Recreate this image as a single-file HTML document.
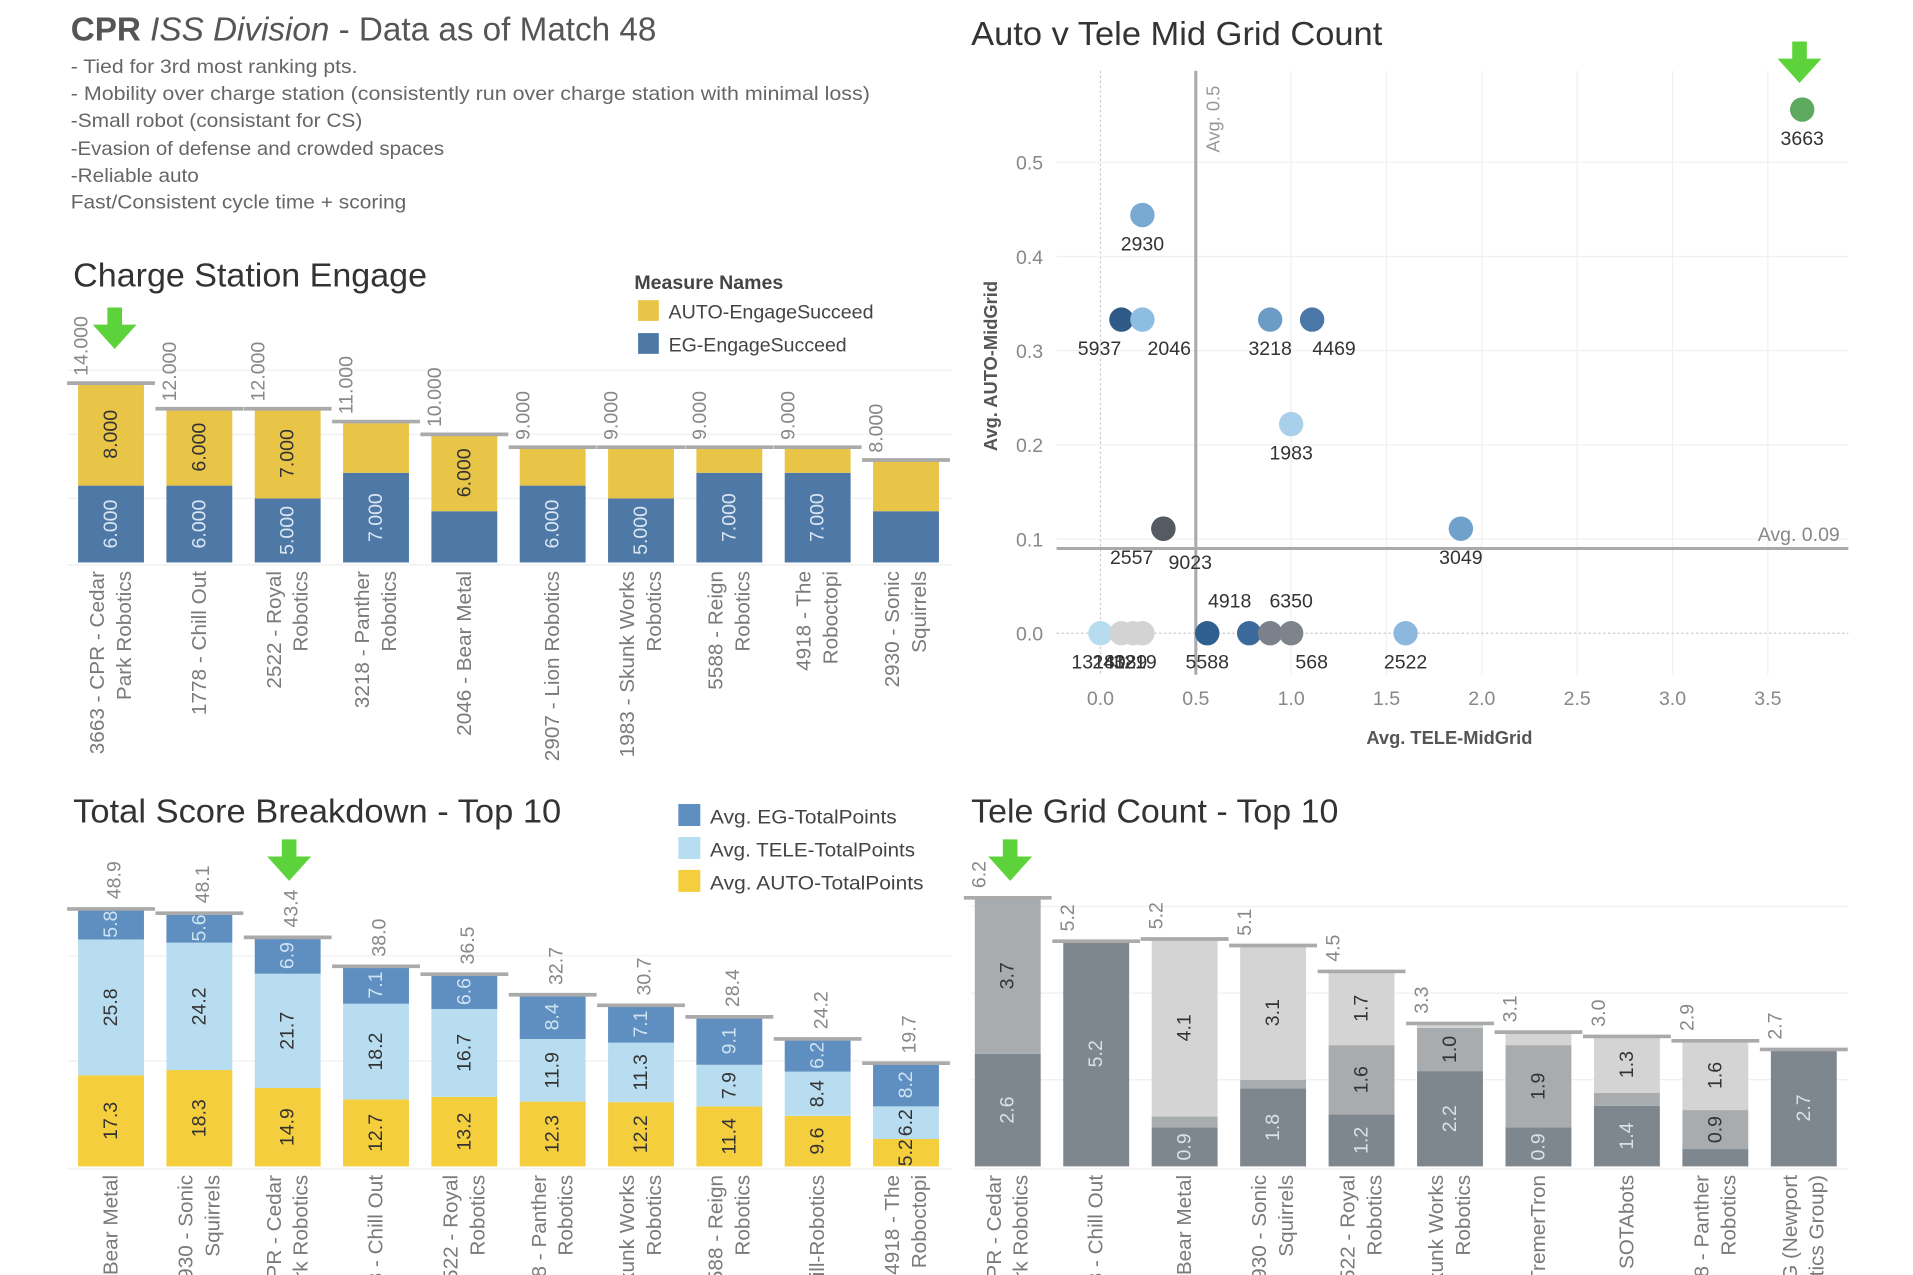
<!DOCTYPE html>
<html><head><meta charset="utf-8">
<style>
html,body{margin:0;padding:0;background:#fff;overflow:hidden;width:1913px;height:1275px;}
svg{display:block;font-family:"Liberation Sans",sans-serif;overflow:hidden;}
</style></head>
<body>
<svg id="root" width="1913" height="1275" viewBox="0 0 1568 1045" xmlns="http://www.w3.org/2000/svg">
<rect x="0" y="0" width="1568" height="1045" fill="#fff"/>
<g fill="#666" font-size="16">
  <text x="58" y="33" font-size="27" fill="#555" textLength="480" lengthAdjust="spacingAndGlyphs"><tspan font-weight="bold">CPR </tspan><tspan font-style="italic">ISS Division</tspan> - Data as of Match 48</text>
  <text x="58" y="60" textLength="235" lengthAdjust="spacingAndGlyphs">- Tied for 3rd most ranking pts.</text>
  <text x="58" y="82" textLength="655" lengthAdjust="spacingAndGlyphs">- Mobility over charge station (consistently run over charge station with minimal loss)</text>
  <text x="58" y="104" textLength="239" lengthAdjust="spacingAndGlyphs">-Small robot (consistant for CS)</text>
  <text x="58" y="127" textLength="306" lengthAdjust="spacingAndGlyphs">-Evasion of defense and crowded spaces</text>
  <text x="58" y="149" textLength="105" lengthAdjust="spacingAndGlyphs">-Reliable auto</text>
  <text x="58" y="171" textLength="275" lengthAdjust="spacingAndGlyphs">Fast/Consistent cycle time + scoring</text>
</g>
<text x="60" y="235" font-size="27" fill="#333" textLength="290" lengthAdjust="spacingAndGlyphs">Charge Station Engage</text>
<text x="796" y="37" font-size="27" fill="#333" textLength="337" lengthAdjust="spacingAndGlyphs">Auto v Tele Mid Grid Count</text>
<text x="60" y="674" font-size="27" fill="#333" textLength="400" lengthAdjust="spacingAndGlyphs">Total Score Breakdown - Top 10</text>
<text x="796" y="674" font-size="27" fill="#333" textLength="301" lengthAdjust="spacingAndGlyphs">Tele Grid Count - Top 10</text>

<g font-size="16" fill="#444">
  <text x="520" y="237" font-weight="bold" textLength="122" lengthAdjust="spacingAndGlyphs">Measure Names</text>
  <rect x="523" y="246" width="17" height="17" fill="#E9C547"/>
  <text x="548" y="261" textLength="168" lengthAdjust="spacingAndGlyphs">AUTO-EngageSucceed</text>
  <rect x="523" y="273" width="17" height="17" fill="#4E79A7"/>
  <text x="548" y="288" textLength="146" lengthAdjust="spacingAndGlyphs">EG-EngageSucceed</text>
</g>
<g font-size="16" fill="#444">
  <rect x="556" y="659" width="18" height="18" fill="#5E8FC0"/>
  <text x="582" y="675" textLength="153" lengthAdjust="spacingAndGlyphs">Avg. EG-TotalPoints</text>
  <rect x="556" y="686" width="18" height="18" fill="#B9DDF0"/>
  <text x="582" y="702" textLength="168" lengthAdjust="spacingAndGlyphs">Avg. TELE-TotalPoints</text>
  <rect x="556" y="713" width="18" height="18" fill="#F5CE3E"/>
  <text x="582" y="729" textLength="175" lengthAdjust="spacingAndGlyphs">Avg. AUTO-TotalPoints</text>
</g>
<g id="c1"></g>
<g id="c2"></g>
<g id="c3"></g>
<g id="c4"></g>
<g id="arrows"></g>
</svg>
<script>
// ---- Chart 1 data ----
const c1Teams = ["3663 - CPR - Cedar|Park Robotics","1778 - Chill Out","2522 - Royal|Robotics","3218 - Panther|Robotics","2046 - Bear Metal","2907 - Lion Robotics","1983 - Skunk Works|Robotics","5588 - Reign|Robotics","4918 - The|Roboctopi","2930 - Sonic|Squirrels"];
const c1Eg = [6,6,5,7,4,6,5,7,7,4];
const c1Auto = [8,6,7,4,6,3,4,2,2,4];
const c1Totals = ["14.000","12.000","12.000","11.000","10.000","9.000","9.000","9.000","9.000","8.000"];
const c1Grid = [5,10,15];
// ---- Scatter data ----
const spTeams = ["3663","2930","5937","2046","3218","4469","1983","2557","9023","3049","1318","2412","4089","3219","5588","4918","568","6350","2522"];
const spTele = [3.68,0.22,0.11,0.22,0.89,1.11,1.0,0.33,0.33,1.89,0.0,0.11,0.17,0.22,0.56,0.78,0.89,1.0,1.6];
const spAuto = [0.556,0.444,0.333,0.333,0.333,0.333,0.222,0.111,0.111,0.111,0,0,0,0,0,0,0,0,0];
const spColors = ["#5DAA5E","#79A8D1","#2F5A87","#8EBDE2","#6C9CC6","#4A76A8","#A9D0EA","#555B63","#555B63","#6FA1CC","#B7DBEF","#D3D3D3","#D3D3D3","#D3D3D3","#2E5F8E","#3B6A9A","#7A818A","#7D848C","#8DB8DE"];
const spXTicks = [0,0.5,1,1.5,2,2.5,3,3.5];
const spYTicks = [0,0.1,0.2,0.3,0.4,0.5];
const spAvgX = 0.5, spAvgY = 0.09;
// ---- Chart 3 data ----
const c3Teams = ["2046 - Bear Metal","2930 - Sonic|Squirrels","3663 - CPR - Cedar|Park Robotics","1778 - Chill Out","2522 - Royal|Robotics","3218 - Panther|Robotics","1983 - Skunk Works|Robotics","5588 - Reign|Robotics","2910 - Skill-Robotics","4918 - The|Roboctopi"];
const c3Auto = [17.3,18.3,14.9,12.7,13.2,12.3,12.2,11.4,9.6,5.2];
const c3Tele = [25.8,24.2,21.7,18.2,16.7,11.9,11.3,7.9,8.4,6.2];
const c3Eg = [5.8,5.6,6.9,7.1,6.6,8.4,7.1,9.1,6.2,8.2];
const c3Totals = ["48.9","48.1","43.4","38.0","36.5","32.7","30.7","28.4","24.2","19.7"];
const c3Grid = [20,40];
// ---- Chart 4 data ----
const c4Teams = ["3663 - CPR - Cedar|Park Robotics","1778 - Chill Out","2046 - Bear Metal","2930 - Sonic|Squirrels","2522 - Royal|Robotics","1983 - Skunk Works|Robotics","3476 - TremerTron","2927 - SOTAbots","3218 - Panther|Robotics","948 - NRG (Newport|Robotics Group)"];
const c4Dark = [2.6,5.2,0.9,1.8,1.2,2.2,0.9,1.4,0.4,2.7];
const c4Mid = [3.6,0,0.25,0.2,1.6,1.0,1.9,0.3,0.9,0];
const c4Light = [0,0,4.1,3.1,1.7,0.1,0.3,1.3,1.6,0];
const c4Totals = ["6.2","5.2","5.2","5.1","4.5","3.3","3.1","3.0","2.9","2.7"];
const c4Labels = [["2.6","3.7",""],["5.2","",""],["0.9","","4.1"],["1.8","","3.1"],["1.2","1.6","1.7"],["2.2","1.0",""],["0.9","1.9",""],["1.4","","1.3"],["","0.9","1.6"],["2.7","",""]];
const c4Grid = [2,4,6];

const NS="http://www.w3.org/2000/svg";
function mk(parent, tag, attrs, txt){
  const e=document.createElementNS(NS,tag);
  for(const k in attrs) e.setAttribute(k,attrs[k]);
  if(txt!==undefined) e.textContent=txt;
  parent.appendChild(e); return e;
}
function rotText(parent, x, y, txt, size, fill, anchor){
  const t=mk(parent,'text',{x:0,y:0,'font-size':size,fill:fill,'text-anchor':anchor,'dominant-baseline':'central',transform:`translate(${x},${y}) rotate(-90)`},txt);
  return t;
}
const centersL = i => 91 + i*72.4;
const centersR = i => 826 + i*72.5;

function catLabels(g, names, cx, yTop){
  names.forEach((n,i)=>{
    const parts=n.split('|');
    const offs = parts.length===1?[0]:[-11,11];
    parts.forEach((p,j)=>{
      const t=rotText(g, cx(i)+offs[j], yTop, p, 17, '#7a7a7a', 'end');
      
      
    });
  });
}

// ---- Chart 1 ----
(function(){
  const g=document.getElementById('c1');
  const base=461, k=10.5, y=v=>base-v*k;
  c1Grid.forEach(v=>{ const l=mk(g,'line',{x1:55,x2:780,y1:y(v),y2:y(v),stroke:'#efefef','stroke-width':1});
    
     });
  mk(g,'line',{x1:55,x2:780,y1:base+2,y2:base+2,stroke:'#eee'});
  c1Teams.forEach((t,i)=>{
    const cx=centersL(i), w=54, e=c1Eg[i], a=c1Auto[i];
    const r1=mk(g,'rect',{x:cx-w/2,y:y(e),width:w,height:e*k,fill:'#4E79A7'});
    
    
    const r2=mk(g,'rect',{x:cx-w/2,y:y(e+a),width:w,height:a*k,fill:'#E9C547'});
    
    
    const rl=mk(g,'line',{x1:cx-36,x2:cx+36,y1:y(e+a),y2:y(e+a),stroke:'#aaa','stroke-width':3});
    
    
    if(e>=5){ const tl=rotText(g,cx,y(e/2),e.toFixed(3),16,'#dbe6f2','middle');
      
       }
    if(a>=5){ const tl=rotText(g,cx,y(e+a/2),a.toFixed(3),16,'#333','middle');
      
       }
    const tt=rotText(g,cx-24,y(e+a)-6,c1Totals[i],16,'#888','start');
    
    
  });
  catLabels(g,c1Teams,centersL,468);
})();

// ---- Scatter ----
(function(){
  const g=document.getElementById('c2');
  const X=v=>902+v*156.3, Y=v=>519-v*772;
  const L=866,R=1515,T=58,B=553;
  spXTicks.forEach(v=>{
    const l=mk(g,'line',{x1:X(v),x2:X(v),y1:T,y2:B,stroke:v===0?'#ccc':'#f0f0f0','stroke-dasharray':v===0?'2,2':''});
    
    
    const t=mk(g,'text',{x:X(v),y:578,'font-size':16,fill:'#888','text-anchor':'middle'},v.toFixed(1));
    
    
  });
  spYTicks.forEach(v=>{
    const l=mk(g,'line',{x1:L,x2:R,y1:Y(v),y2:Y(v),stroke:v===0?'#ccc':'#f0f0f0','stroke-dasharray':v===0?'2,2':''});
    
    
    const t=mk(g,'text',{x:855,y:Y(v)+6,'font-size':16,fill:'#888','text-anchor':'end'},v.toFixed(1));
    
    
  });
  const ax=mk(g,'line',{x1:X(spAvgX),x2:X(spAvgX),y1:T,y2:B,stroke:'#aaa','stroke-width':2.5});
  
  
  const ay=mk(g,'line',{x1:L,x2:R,y1:Y(spAvgY),y2:Y(spAvgY),stroke:'#aaa','stroke-width':2.5});
  
  
  const axl=rotText(g,X(spAvgX)+14,125,'Avg. '+spAvgX,15,'#999','start');
  
  
  const ayl=mk(g,'text',{x:1508,y:Y(spAvgY)-6,'font-size':16,fill:'#888','text-anchor':'end'},'Avg. '+spAvgY);
  
  
  const yt=rotText(g,812,300,'Avg. AUTO-MidGrid',15,'#555','middle'); yt.setAttribute('font-weight','bold');
  
  
  const xt=mk(g,'text',{x:1188,y:610,'font-size':15,fill:'#555','font-weight':'bold','text-anchor':'middle'},'Avg. TELE-MidGrid');
  
  
  const lblShift={"5937":[-18,0],"2046":[22,0],"4469":[18,0],"2557":[-26,0],"9023":[22,4],"4918":[-16,-50],"6350":[0,-50],"568":[34,0]};
  spTeams.forEach((t,i)=>{
    const c=mk(g,'circle',{cx:X(spTele[i]),cy:Y(spAuto[i]),r:10,fill:spColors[i]});
    
    
    const s=lblShift[t]||[0,0];
    const small=spAuto[i]===0 && spTele[i]<0.3;
    const tx=mk(g,'text',{x:X(spTele[i])+s[0]-(small?6:0),y:Y(spAuto[i])+29+s[1],'font-size':16,fill:'#333','text-anchor':'middle'},t);
    
    
  });
})();

// ---- Chart 3 ----
(function(){
  const g=document.getElementById('c3');
  const base=956, k=4.315, y=v=>base-v*k;
  c3Grid.forEach(v=>{ const l=mk(g,'line',{x1:55,x2:780,y1:y(v),y2:y(v),stroke:'#efefef'});
    
     });
  mk(g,'line',{x1:55,x2:780,y1:base+2,y2:base+2,stroke:'#eee'});
  c3Teams.forEach((t,i)=>{
    const cx=centersL(i), w=54, a=c3Auto[i], te=c3Tele[i], e=c3Eg[i];
    const segs=[[0,a,'#F5CE3E','#333','bar-auto-total'],[a,te,'#B9DDF0','#333','bar-tele-total'],[a+te,e,'#5E8FC0','#cfe3f3','bar-eg-total']];
    segs.forEach(s=>{
      const r=mk(g,'rect',{x:cx-w/2,y:y(s[0]+s[1]),width:w,height:s[1]*k,fill:s[2]});
      
      
      const tl=rotText(g,cx,y(s[0]+s[1]/2),s[1].toFixed(1),16,s[3],'middle');
      
      
    });
    const tot=a+te+e;
    const rl=mk(g,'line',{x1:cx-36,x2:cx+36,y1:y(tot),y2:y(tot),stroke:'#aaa','stroke-width':3});
    
    
    const tt=rotText(g,cx+3,y(tot)-8,c3Totals[i],16,'#888','start');
    
    
  });
  catLabels(g,c3Teams,centersL,963);
})();

// ---- Chart 4 ----
(function(){
  const g=document.getElementById('c4');
  const base=956, k=35.5, y=v=>base-v*k;
  c4Grid.forEach(v=>{ const l=mk(g,'line',{x1:796,x2:1515,y1:y(v),y2:y(v),stroke:'#efefef'});
    
     });
  mk(g,'line',{x1:796,x2:1515,y1:base+2,y2:base+2,stroke:'#eee'});
  c4Teams.forEach((t,i)=>{
    const cx=centersR(i), w=54, d=c4Dark[i], m=c4Mid[i], l=c4Light[i];
    const segs=[[0,d,'#7E868E','#dde1e4','bar-tele-dark'],[d,m,'#A8ACAE','#333','bar-tele-mid'],[d+m,l,'#D4D4D4','#333','bar-tele-light']];
    segs.forEach((s,j)=>{
      if(s[1]<=0) return;
      const r=mk(g,'rect',{x:cx-w/2,y:y(s[0]+s[1]),width:w,height:s[1]*k,fill:s[2]});
      
      
      const lab=c4Labels[i][j];
      if(lab){ const tl=rotText(g,cx,y(s[0]+s[1]/2),lab,16,s[3],'middle');
        
         }
    });
    const tot=d+m+l;
    const rl=mk(g,'line',{x1:cx-36,x2:cx+36,y1:y(tot),y2:y(tot),stroke:'#aaa','stroke-width':3});
    
    
    const tt=rotText(g,cx-23,y(tot)-8,c4Totals[i],16,'#888','start');
    
    
  });
  catLabels(g,c4Teams,centersR,963);
})();

// ---- Arrows ----
(function(){
  const g=document.getElementById('arrows');
  [[94,252],[1475,34],[237,688],[828,688]].forEach(p=>{
    const [x,y0]=p;
    const a=mk(g,'polygon',{points:`${x-6},${y0} ${x+6},${y0} ${x+6},${y0+14} ${x+18},${y0+14} ${x},${y0+34} ${x-18},${y0+14} ${x-6},${y0+14}`,fill:'#5DD33B'});
    
    
  });
})();
</script>
</body></html>
